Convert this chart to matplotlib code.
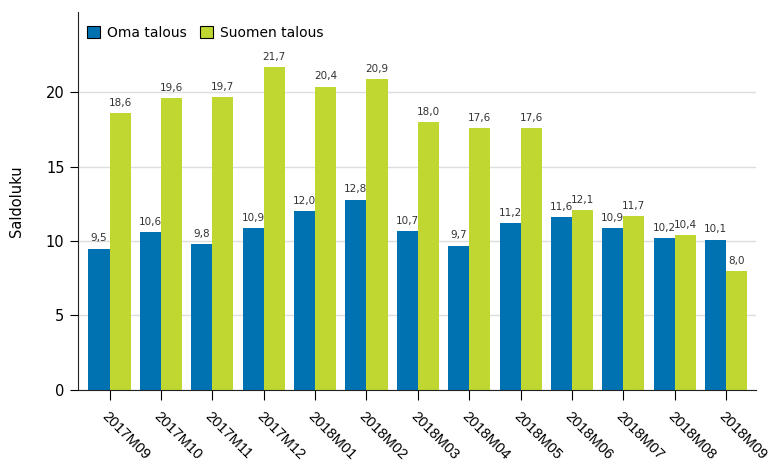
import matplotlib.pyplot as plt
import numpy as np

months = ['2017M09', '2017M10', '2017M11', '2017M12', '2018M01', '2018M02', '2018M03',
          '2018M04', '2018M05', '2018M06', '2018M07', '2018M08', '2018M09']
oma = [9.5, 10.6, 9.8, 10.9, 12.0, 12.8, 10.7, 9.7, 11.2, 11.6, 10.9, 10.2, 10.1]
suomen = [18.6, 19.6, 19.7, 21.7, 20.4, 20.9, 18.0, 17.6, 17.6, 12.1, 11.7, 10.4, 8.0]

blue = '#0072B1'
green = '#BFD730'

fig = plt.figure(figsize=(7.69, 4.68), dpi=100)
ax = fig.add_axes([0.101, 0.167, 0.882, 0.807])

x = np.arange(len(months))
w = 0.41
b1 = ax.bar(x - w / 2, oma, w, color=blue, label='Oma talous', zorder=2)
b2 = ax.bar(x + w / 2, suomen, w, color=green, label='Suomen talous', zorder=2)

# value labels with decimal comma
for bars, vals in ((b1, oma), (b2, suomen)):
    for r, v in zip(bars, vals):
        ax.text(r.get_x() + r.get_width() / 2, v + 0.35, f'{v:.1f}'.replace('.', ','),
                ha='center', va='bottom', fontsize=7.5, color='#333333')

ax.set_xlim(-0.62, 12.58)
ax.set_ylim(0, 25.4)
ax.set_yticks([0, 5, 10, 15, 20])
ax.set_xticks(x)
ax.set_xticklabels(months, rotation=-45, ha='left', va='top', rotation_mode='anchor',
                   fontsize=10.5, family='Liberation Sans')
ax.tick_params(axis='y', labelsize=10.5, length=6)
ax.tick_params(axis='x', length=7, pad=7)
ax.set_ylabel('Saldoluku', fontsize=10.5, labelpad=16)

ax.grid(axis='y', color='#dddddd', linewidth=1, zorder=0)
for s in ('top', 'right'):
    ax.spines[s].set_visible(False)
ax.spines['left'].set_color('#222222')
ax.spines['bottom'].set_color('#222222')

leg = ax.legend(loc='upper left', ncol=2, frameon=False, fontsize=10,
                handlelength=0.9, handleheight=0.9, columnspacing=1.0,
                handletextpad=0.5, borderaxespad=0.3, bbox_to_anchor=(0.0, 0.99))
for h in leg.legend_handles:
    h.set_edgecolor('black')
    h.set_linewidth(0.8)

plt.savefig('out.png', dpi=100)
